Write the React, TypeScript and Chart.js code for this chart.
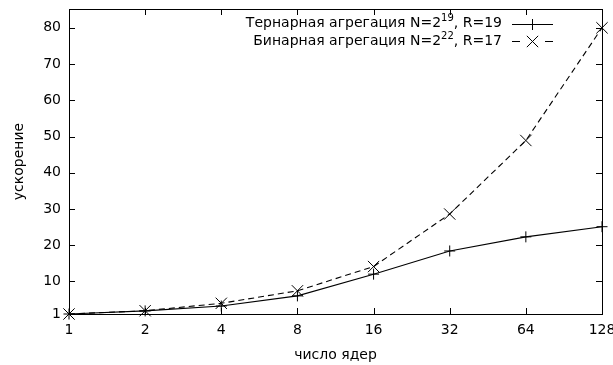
import React, { useEffect, useRef } from "react";
import { Chart, registerables } from "chart.js";

Chart.register(...registerables);

const cores = [1, 2, 4, 8, 16, 32, 64, 128];
const ternarySpeedup = [1, 1.85, 3.2, 6.0, 12.0, 18.4, 22.3, 25.1];
const binarySpeedup = [1, 1.9, 3.95, 7.4, 14.1, 28.6, 48.9, 80.0];
const yTicks = [1, 10, 20, 30, 40, 50, 60, 70, 80];
const xTicks = cores;
const legendPre = ["Тернарная агрегация N=2", "Бинарная агрегация N=2"];
const legendSup = ["19", "22"];
const legendPost = [", R=19", ", R=17"];
const xTitle = "число ядер";
const yTitle = "ускорение";

const FONT = "14px 'DejaVu Sans'";
const SUP_FONT = "10px 'DejaVu Sans'";

const gnuplotPlugin = {
  id: "gnuplotFrame",
  afterDraw(chart: any) {
    const ctx = chart.ctx as CanvasRenderingContext2D;
    const { left, right, top, bottom } = chart.chartArea;
    const xs = chart.scales.x;
    const ys = chart.scales.y;
    ctx.save();
    ctx.strokeStyle = "#000";
    ctx.lineWidth = 1;
    ctx.setLineDash([]);
    // border
    ctx.strokeRect(Math.round(left) + 0.5, Math.round(top) + 0.5, Math.round(right - left), Math.round(bottom - top));
    const tl = 6;
    ctx.beginPath();
    xTicks.forEach((v) => {
      const px = Math.round(xs.getPixelForValue(v)) + 0.5;
      ctx.moveTo(px, bottom);
      ctx.lineTo(px, bottom - tl);
      ctx.moveTo(px, top);
      ctx.lineTo(px, top + tl);
    });
    yTicks.forEach((v) => {
      const py = Math.round(ys.getPixelForValue(v)) + 0.5;
      ctx.moveTo(left, py);
      ctx.lineTo(left + tl, py);
      ctx.moveTo(right, py);
      ctx.lineTo(right - tl, py);
    });
    ctx.stroke();
    // tick labels
    ctx.fillStyle = "#000";
    ctx.font = FONT;
    ctx.textAlign = "center";
    ctx.textBaseline = "middle";
    xTicks.forEach((v) => {
      ctx.fillText(String(v), xs.getPixelForValue(v), bottom + 16);
    });
    ctx.textAlign = "right";
    yTicks.forEach((v) => {
      ctx.fillText(String(v), left - 8, ys.getPixelForValue(v));
    });
    // axis titles
    ctx.textAlign = "center";
    ctx.fillText(xTitle, (left + right) / 2, 355);
    ctx.save();
    ctx.translate(19, (top + bottom) / 2);
    ctx.rotate(-Math.PI / 2);
    ctx.fillText(yTitle, 0, 0);
    ctx.restore();
    // legend
    const textRight = 502;
    const sampleL = 512;
    const sampleR = 553;
    const rowY = [23.5, 41];
    chart.data.datasets.forEach((ds: any, i: number) => {
      const y = rowY[i];
      ctx.font = FONT;
      const wPost = ctx.measureText(legendPost[i]).width;
      const wPre = ctx.measureText(legendPre[i]).width;
      ctx.font = SUP_FONT;
      const wSup = ctx.measureText(legendSup[i]).width;
      let x = textRight - wPost - wSup - wPre;
      ctx.textAlign = "left";
      ctx.textBaseline = "middle";
      ctx.font = FONT;
      ctx.fillText(legendPre[i], x, y);
      x += wPre;
      ctx.font = SUP_FONT;
      ctx.fillText(legendSup[i], x, y - 5);
      x += wSup;
      ctx.font = FONT;
      ctx.fillText(legendPost[i], x, y);
      // sample line
      const cy = Math.round(y) + 0.5;
      const cx = (sampleL + sampleR) / 2;
      ctx.beginPath();
      if (ds.borderDash) {
        ctx.moveTo(sampleL, cy);
        ctx.lineTo(sampleL + 8, cy);
        ctx.moveTo(sampleR - 8, cy);
        ctx.lineTo(sampleR, cy);
      } else {
        ctx.moveTo(sampleL, cy);
        ctx.lineTo(sampleR, cy);
      }
      ctx.stroke();
      ctx.beginPath();
      if (ds.pointStyle === "cross") {
        const r = ds.pointRadius;
        ctx.moveTo(cx - r, cy);
        ctx.lineTo(cx + r, cy);
        ctx.moveTo(cx, cy - r);
        ctx.lineTo(cx, cy + r);
      } else {
        const r = ds.pointRadius * Math.SQRT1_2;
        ctx.moveTo(cx - r, cy - r);
        ctx.lineTo(cx + r, cy + r);
        ctx.moveTo(cx - r, cy + r);
        ctx.lineTo(cx + r, cy - r);
      }
      ctx.stroke();
    });
    ctx.restore();
  },
};

export default function App() {
  const ref = useRef<HTMLCanvasElement | null>(null);
  useEffect(() => {
    if (!ref.current) return;
    const chart = new Chart(ref.current, {
      type: "line",
      data: {
        datasets: [
          {
            label: legendPre[0] + legendSup[0] + legendPost[0],
            data: cores.map((c, i) => ({ x: c, y: ternarySpeedup[i] })),
            borderColor: "#000",
            backgroundColor: "#000",
            borderWidth: 1.1,
            pointStyle: "cross",
            pointRadius: 5.5,
            pointBorderWidth: 1,
            pointBorderColor: "#000",
            fill: false,
            tension: 0,
            clip: false,
          } as any,
          {
            label: legendPre[1] + legendSup[1] + legendPost[1],
            data: cores.map((c, i) => ({ x: c, y: binarySpeedup[i] })),
            borderColor: "#000",
            backgroundColor: "#000",
            borderWidth: 1.1,
            borderDash: [6, 4],
            pointStyle: "crossRot",
            pointRadius: 8,
            pointBorderWidth: 1,
            pointBorderColor: "#000",
            fill: false,
            tension: 0,
            clip: false,
          } as any,
        ],
      },
      options: {
        animation: false,
        responsive: false,
        devicePixelRatio: 1,
        layout: { padding: { left: 69, right: 11, top: 9, bottom: 51 } },
        plugins: { legend: { display: false }, tooltip: { enabled: false } },
        events: [],
        scales: {
          x: {
            type: "logarithmic",
            min: 1,
            max: 128,
            afterBuildTicks: (s: any) => {
              s.ticks = xTicks.map((v) => ({ value: v }));
            },
            ticks: { display: false },
            grid: { display: false, drawTicks: false },
            border: { display: false },
          },
          y: {
            type: "linear",
            min: 1,
            max: 85.2,
            afterBuildTicks: (s: any) => {
              s.ticks = yTicks.map((v) => ({ value: v }));
            },
            ticks: { display: false },
            grid: { display: false, drawTicks: false },
            border: { display: false },
          },
        },
      } as any,
      plugins: [gnuplotPlugin],
    });
    return () => chart.destroy();
  }, []);
  return (
    <div style={{ position: "fixed", left: 0, top: 0, width: 613, height: 365, background: "#fff" }}>
      <canvas ref={ref} width={613} height={365} style={{ display: "block" }} />
    </div>
  );
}
